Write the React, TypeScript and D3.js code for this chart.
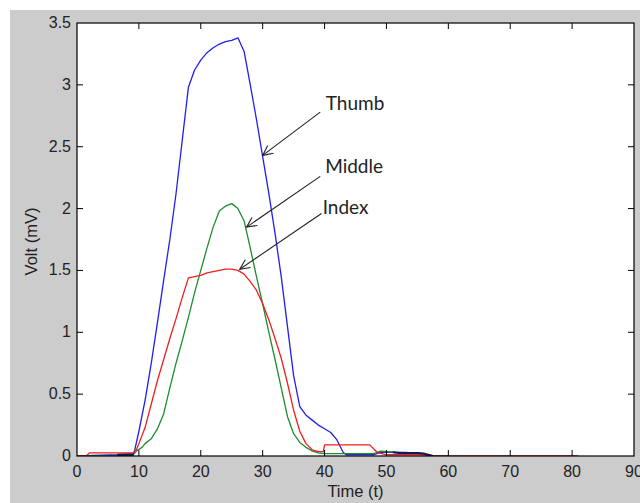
import React from "react";
import * as d3 from "d3";

// ---- data ----
const thumbT = [0, 6.5, 9.2, 10, 11, 12, 13, 14, 15, 16, 17, 18, 19, 20, 21, 22, 23, 24, 25, 26, 27, 28, 29, 30, 31, 32, 33, 34, 35, 36, 37, 38, 39, 40, 41, 42, 43, 43.5, 48, 49, 53, 56, 57, 60];
const thumbV = [0, 0.01, 0.02, 0.2, 0.45, 0.75, 1.08, 1.42, 1.75, 2.12, 2.55, 2.98, 3.12, 3.2, 3.26, 3.3, 3.33, 3.35, 3.36, 3.38, 3.27, 3.0, 2.72, 2.42, 2.12, 1.8, 1.45, 1.05, 0.65, 0.4, 0.33, 0.29, 0.25, 0.22, 0.19, 0.13, 0.03, 0.01, 0.01, 0.03, 0.03, 0.02, 0, 0];

const middleT = [0, 9, 9.6, 10.5, 11, 12, 13, 14, 15, 16, 17, 18, 19, 20, 21, 22, 23, 24, 25, 26, 27, 28, 29, 30, 31, 32, 33, 34, 35, 36, 37, 38, 39, 40, 48, 49, 52, 55, 57];
const middleV = [0, 0.005, 0.04, 0.07, 0.1, 0.14, 0.22, 0.34, 0.55, 0.75, 0.93, 1.12, 1.32, 1.5, 1.68, 1.85, 1.98, 2.02, 2.04, 2.0, 1.9, 1.68, 1.45, 1.23, 1.0, 0.78, 0.55, 0.32, 0.18, 0.11, 0.07, 0.04, 0.025, 0.02, 0.02, 0.04, 0.03, 0.02, 0];

const indexT = [0, 1.5, 2, 9, 9.6, 10, 11, 12, 13, 14, 15, 16, 17, 18, 19, 20, 21, 22, 23, 24, 25, 26, 27, 28, 29, 30, 31, 32, 33, 34, 35, 36, 37, 38, 39, 39.8, 40, 47.3, 48.5, 50, 57, 57.5, 81];
const indexV = [0, 0, 0.025, 0.025, 0.05, 0.1, 0.23, 0.42, 0.61, 0.78, 0.95, 1.11, 1.28, 1.44, 1.45, 1.46, 1.48, 1.49, 1.5, 1.51, 1.51, 1.5, 1.47, 1.41, 1.34, 1.23, 1.1, 0.95, 0.79, 0.59, 0.37, 0.2, 0.1, 0.05, 0.035, 0.035, 0.09, 0.09, 0.03, 0.01, 0.01, 0, 0];

const darkT = [6.5, 9.2, 49, 51, 52, 55, 56, 57.5];
const darkV = [0.01, 0.01, NaN, 0.03, 0.025, 0.025, 0.02, 0];

const xTicks = [0, 10, 20, 30, 40, 50, 60, 70, 80, 90];
const yTicks = [0, 0.5, 1, 1.5, 2, 2.5, 3, 3.5];

const annLabels = ["Thumb", "Middle", "Index"];
const annTextT = [40.2, 40.1, 39.7];
const annTextV = [2.8, 2.29, 1.96];
const annFromT = [39.3, 39.3, 39.5];
const annFromV = [2.78, 2.26, 1.96];
const annToT = [30.0, 27.4, 26.3];
const annToV = [2.43, 1.85, 1.51];

// ---- layout ----
const W = 640, H = 503;
const L = 77, R = 634, T = 23, B = 456;

export default function App() {
  const x = d3.scaleLinear().domain([0, 90]).range([L, R]);
  const y = d3.scaleLinear().domain([0, 3.5]).range([B, T]);
  const line = d3
    .line<[number, number]>()
    .defined((d) => !isNaN(d[1]))
    .x((d) => x(d[0]))
    .y((d) => y(d[1]));

  const series = [
    { t: thumbT, v: thumbV, color: "#1f1ff0", w: 1.3 },
    { t: middleT, v: middleV, color: "#1e8c30", w: 1.3 },
    { t: indexT, v: indexV, color: "#f01e1e", w: 1.3 },
    { t: darkT, v: darkV, color: "#14145a", w: 2 },
  ];

  const tick = 6;

  return (
    <div style={{ position: "absolute", left: 0, top: 0, width: W, height: H }}>
      <svg width={W} height={H} style={{ display: "block" }}>
        <rect x={0} y={0} width={W} height={H} fill="#ffffff" />
        <rect x={10} y={10} width={W - 10} height={H - 10} fill="#cccccc" />
        <rect x={L} y={T} width={R - L} height={B - T} fill="#ffffff" />
        <defs>
          <clipPath id="plotclip">
            <rect x={L} y={T - 2} width={R - L} height={B - T + 2} />
          </clipPath>
        </defs>
        <g clipPath="url(#plotclip)">
          {series.map((s, i) => (
            <path
              key={i}
              d={line(s.t.map((t, j) => [t, s.v[j]] as [number, number])) || ""}
              fill="none"
              stroke={s.color}
              strokeWidth={s.w}
              strokeLinejoin="round"
            />
          ))}
        </g>
        {/* ticks */}
        <g stroke="#000" strokeWidth={1}>
          {xTicks.slice(1, -1).map((t) => (
            <g key={"xt" + t}>
              <line x1={x(t)} x2={x(t)} y1={B} y2={B - tick} />
              <line x1={x(t)} x2={x(t)} y1={T} y2={T + tick} />
            </g>
          ))}
          {yTicks.slice(1, -1).map((v) => (
            <g key={"yt" + v}>
              <line x1={L} x2={L + tick} y1={y(v)} y2={y(v)} />
              <line x1={R} x2={R - tick} y1={y(v)} y2={y(v)} />
            </g>
          ))}
        </g>
        <rect x={L} y={T} width={R - L} height={B - T} fill="none" stroke="#000" strokeWidth={1.2} />
        {/* tick labels */}
        <g fontFamily="'Liberation Sans', Arial, sans-serif" fontSize={16} fill="#222">
          {xTicks.map((t) => (
            <text key={"xl" + t} x={x(t)} y={B + 21} textAnchor="middle">
              {t}
            </text>
          ))}
          {yTicks.map((v) => (
            <text key={"yl" + v} x={L - 6} y={y(v) + 5} textAnchor="end">
              {v}
            </text>
          ))}
        </g>
        <text
          x={(L + R) / 2}
          y={497}
          textAnchor="middle"
          fontFamily="'Liberation Sans', Arial, sans-serif"
          fontSize={16.5}
          fill="#222"
        >
          Time (t)
        </text>
        <text
          transform={`translate(37, ${(T + B) / 2 + 2}) rotate(-90)`}
          textAnchor="middle"
          fontFamily="'Liberation Sans', Arial, sans-serif"
          fontSize={16.5}
          fill="#222"
        >
          Volt (mV)
        </text>
        {/* annotations */}
        {annLabels.map((lab, i) => {
          const x1 = x(annFromT[i]), y1 = y(annFromV[i]);
          const x2 = x(annToT[i]), y2 = y(annToV[i]);
          const ang = Math.atan2(y2 - y1, x2 - x1);
          const hl = 11, ha = 0.45;
          const a1x = x2 - hl * Math.cos(ang - ha), a1y = y2 - hl * Math.sin(ang - ha);
          const a2x = x2 - hl * Math.cos(ang + ha), a2y = y2 - hl * Math.sin(ang + ha);
          return (
            <g key={lab}>
              <line x1={x1} y1={y1} x2={x2} y2={y2} stroke="#222" strokeWidth={1.1} />
              <polyline points={`${a1x},${a1y} ${x2},${y2} ${a2x},${a2y}`} fill="none" stroke="#222" strokeWidth={1.1} />
              <text x={x(annTextT[i])} y={y(annTextV[i])} fontFamily="Lato, 'Noto Sans', sans-serif" fontSize={19} fill="#222">
                {lab}
              </text>
            </g>
          );
        })}
      </svg>
    </div>
  );
}
